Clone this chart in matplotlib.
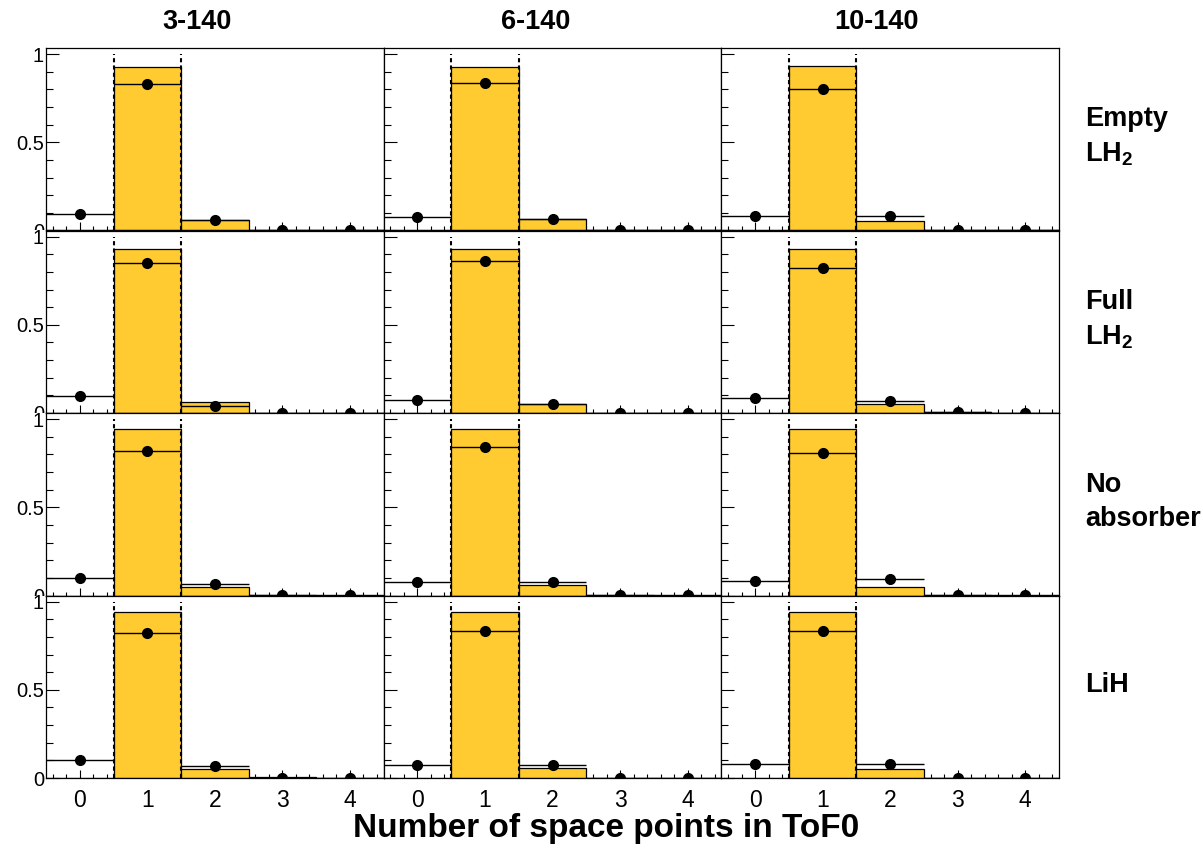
import matplotlib
matplotlib.use("Agg")
import matplotlib.pyplot as plt
from matplotlib.transforms import Bbox, TransformedBbox
from matplotlib.ticker import MultipleLocator, FixedLocator

plt.rcParams['font.family'] = ['Liberation Sans', 'DejaVu Sans']
plt.rcParams['mathtext.fontset'] = 'custom'
plt.rcParams['mathtext.rm'] = 'Liberation Sans'
plt.rcParams['mathtext.bf'] = 'Liberation Sans:bold'

# ---------------- data ----------------
bins = [0, 1, 2, 3, 4]
column_titles = ["3-140", "6-140", "10-140"]
row_labels = ["Empty\nLH$_\\mathbf{2}$", "Full\nLH$_\\mathbf{2}$", "No\nabsorber", "LiH"]
xlabel = "Number of space points in ToF0"

# simulation (histogram) per row, per column
mc_empty_lh2 = [[0, 0.930, 0.060, 0.002, 0], [0, 0.930, 0.066, 0.005, 0], [0, 0.935, 0.056, 0.004, 0]]
mc_full_lh2 = [[0, 0.930, 0.060, 0.002, 0], [0, 0.930, 0.050, 0.002, 0], [0, 0.930, 0.049, 0.003, 0]]
mc_no_abs = [[0, 0.943, 0.050, 0.002, 0], [0, 0.943, 0.059, 0.004, 0], [0, 0.943, 0.050, 0.004, 0]]
mc_lih = [[0, 0.940, 0.053, 0.003, 0], [0, 0.940, 0.055, 0.002, 0], [0, 0.940, 0.052, 0.002, 0]]

# data (points) per row, per column
data_empty_lh2 = [[0.095, 0.830, 0.058, 0.002, 0.001], [0.077, 0.835, 0.066, 0.004, 0.001], [0.084, 0.800, 0.084, 0.004, 0.001]]
data_full_lh2 = [[0.094, 0.850, 0.042, 0.002, 0.001], [0.073, 0.860, 0.050, 0.002, 0.001], [0.084, 0.820, 0.066, 0.003, 0.001]]
data_no_abs = [[0.097, 0.817, 0.067, 0.002, 0.001], [0.078, 0.842, 0.078, 0.004, 0.001], [0.084, 0.806, 0.091, 0.004, 0.001]]
data_lih = [[0.100, 0.820, 0.067, 0.002, 0.001], [0.075, 0.835, 0.075, 0.002, 0.001], [0.077, 0.833, 0.077, 0.002, 0.001]]

mc_rows = [mc_empty_lh2, mc_full_lh2, mc_no_abs, mc_lih]
data_rows = [data_empty_lh2, data_full_lh2, data_no_abs, data_lih]
cut_edges = [0.5, 1.5]

# ---------------- layout ----------------
W, H = 1203, 849
fig = plt.figure(figsize=(W / 100, H / 100), dpi=100)
fig.patch.set_facecolor('white')

left_px, right_px = 46, 1059
top_px, bottom_px = 48, 778
col_w = (right_px - left_px) / 3
row_h = (bottom_px - top_px) / 4

fill_color = "#ffcb30"

axes = []
for r in range(4):
    for c in range(3):
        x0 = (left_px + c * col_w) / W
        y0 = 1 - (top_px + (r + 1) * row_h) / H
        ax = fig.add_axes([x0, y0, col_w / W, row_h / H])
        axes.append(ax)
        mc = mc_rows[r][c]
        dt = data_rows[r][c]
        ax.bar(bins, mc, width=1.0, align='center', color=fill_color,
               edgecolor='black', linewidth=0.9, zorder=2)
        ax.vlines(cut_edges, 0, 1.0, colors='black', linestyles=(0, (2.0, 1.5)),
                  linewidth=1.5, zorder=3)
        ax.errorbar(bins, dt, xerr=0.5, fmt='o', color='black', ms=7,
                    elinewidth=1.0, capsize=0, zorder=4)
        ax.set_xlim(-0.5, 4.5)
        ax.set_ylim(0, 1.035)
        for s in ax.spines.values():
            s.set_linewidth(0.9)
            s.set_zorder(5)
        ax.xaxis.set_major_locator(FixedLocator(bins))
        ax.xaxis.set_minor_locator(MultipleLocator(0.2))
        ax.set_yticks([0, 0.5, 1])
        ax.yaxis.set_minor_locator(MultipleLocator(0.1))
        ax.tick_params(axis='x', which='major', direction='in', length=5.5, width=0.8,
                       top=False, bottom=True, labelsize=16.5, pad=8)
        ax.tick_params(axis='x', which='minor', direction='in', length=3, width=0.8,
                       top=False, bottom=True)
        ax.tick_params(axis='y', which='major', direction='in', length=9, width=0.8,
                       left=True, right=False, labelsize=14.5, pad=1.5)
        ax.tick_params(axis='y', which='minor', direction='in', length=5, width=0.8,
                       left=True, right=False)
        ax.set_yticklabels(["0", "0.5", "1"])
        if c != 0:
            ax.tick_params(axis='y', labelleft=False)
        if r != 3:
            ax.tick_params(axis='x', labelbottom=False)
        if c == 0 and r != 3:
            lab0 = ax.get_yticklabels()[0]
            clip = TransformedBbox(Bbox.from_extents(0, y0, 1, 1), fig.transFigure)
            lab0.set_clip_on(True)
            lab0.set_clip_box(clip)

# column titles
title_x = [197, 536, 876]
for c, t in enumerate(column_titles):
    fig.text(title_x[c] / W, 1 - 22 / H, t, ha='center', va='center',
             fontsize=19.5, fontweight='bold')

# row labels
for r, t in enumerate(row_labels):
    yc = top_px + (r + 0.5) * row_h
    fig.text(1085 / W, 1 - (yc - 2) / H, t, ha='left', va='center',
             fontsize=19.5, fontweight='bold', linespacing=1.4)

fig.text(606 / W, 1 - 828 / H, xlabel, ha='center', va='center',
         fontsize=24, fontweight='bold')

fig.savefig("out.png", dpi=100)
